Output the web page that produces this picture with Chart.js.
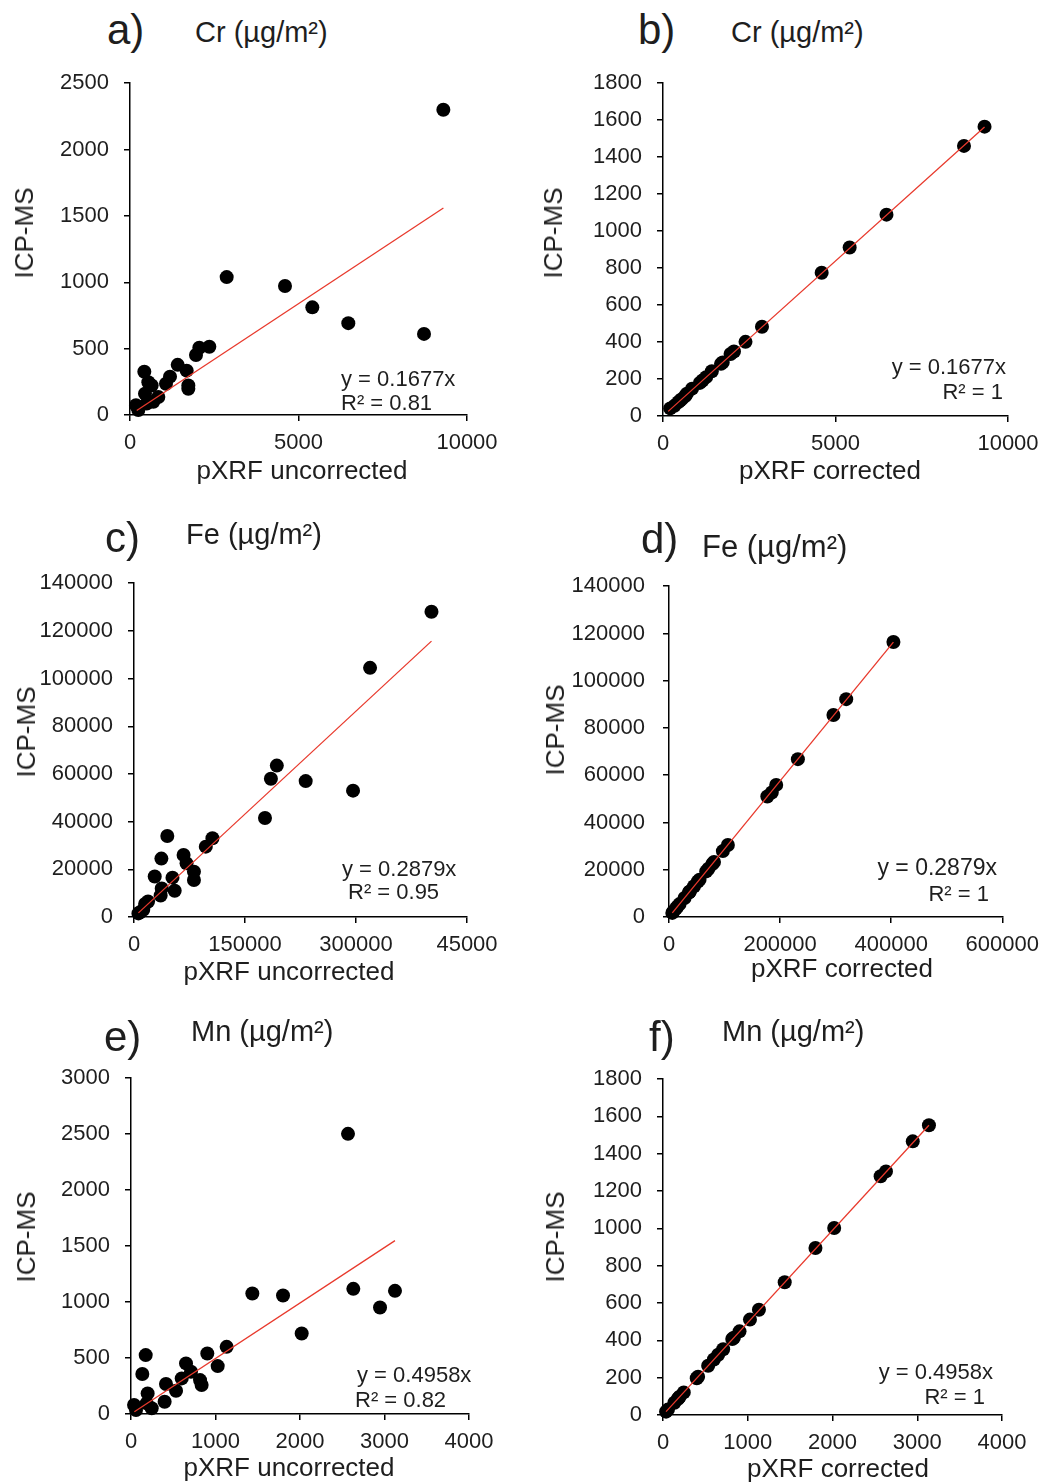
<!DOCTYPE html>
<html>
<head>
<meta charset="utf-8">
<script src="https://cdn.jsdelivr.net/npm/chart.js@4.4.1/dist/chart.umd.min.js"></script>
<style>
  body { margin: 0; background: #fff; width: 1048px; height: 1483px; position: relative; overflow: hidden;
         font-family: "Liberation Sans", Arial, Helvetica, sans-serif; color: #1e1e1e; }
  .box { position: absolute; }
  .txt { position: absolute; white-space: nowrap; line-height: 1; }
</style>
</head>
<body>
<script>
// --- VALUES ---

// a) Cr, pXRF uncorrected vs ICP-MS
const crRawX = [9298, 2869, 4599, 5410, 6478, 8724, 2354, 2057, 1958, 1415, 1682, 1731, 1731, 1187, 1068, 425, 544, 643, 445, 841, 692, 495, 178, 247];
const crRawY = [2300, 1039, 972, 811, 692, 611, 514, 507, 452, 378, 334, 223, 198, 289, 235, 326, 247, 222, 161, 136, 99, 87, 74, 37];
const crRawFitX = [200, 9300];
const crRawFitY = [34, 1560];

// b) Cr, pXRF corrected
const crCorX = [9320, 8724, 6478, 5410, 4599, 2869, 2391, 2057, 1958, 1731, 1682, 1415, 1250, 1145, 1068, 843, 692, 643, 544, 495, 445, 330, 208];
const crCorY = [1565, 1461, 1089, 911, 775, 483, 401, 349, 335, 290, 282, 242, 210, 192, 179, 148, 121, 108, 91, 83, 75, 55, 41];
const crCorFitX = [150, 9320];
const crCorFitY = [25, 1563];

// c) Fe, pXRF uncorrected
const feRawX = [402000, 319000, 193000, 185000, 232000, 296000, 177000, 106000, 97000, 45000, 37000, 67000, 71000, 81000, 81000, 52000, 55000, 28000, 37500, 36000, 19000, 15000, 12500, 8000, 6000];
const feRawY = [128000, 104500, 63500, 58000, 57000, 53000, 41500, 33000, 29500, 34000, 24500, 26000, 22500, 19000, 15500, 16500, 11000, 17000, 12000, 9000, 6500, 5500, 3000, 2000, 1500];
const feRawFitX = [6000, 402000];
const feRawFitY = [1730, 115700];
const feRawXTicks = ['0', '150000', '300000', '45000'];

// d) Fe, pXRF corrected
const feCorX = [404000, 319000, 296000, 232000, 193000, 185000, 177000, 106000, 97000, 81000, 78000, 71000, 67000, 55000, 52000, 45000, 37500, 37000, 36000, 28000, 19000, 15000, 12500, 8000, 6000];
const feCorY = [116400, 92200, 85500, 66800, 55900, 52700, 51000, 30500, 27900, 23300, 22400, 20400, 19300, 15800, 15000, 13000, 10800, 10650, 10400, 8060, 5470, 4320, 3600, 2300, 1730];
const feCorFitX = [6000, 404000];
const feCorFitY = [1730, 116300];

// e) Mn, pXRF uncorrected
const mnRawX = [2568, 2631, 1436, 1799, 3124, 2947, 2020, 1132, 903, 1026, 651, 710, 600, 817, 836, 533, 414, 398, 174, 134, 197, 185, 245, 36, 59];
const mnRawY = [2503, 1118, 1076, 1058, 1100, 951, 719, 600, 541, 428, 452, 378, 318, 303, 259, 208, 268, 110, 526, 357, 184, 95, 51, 80, 36];
const mnRawFitX = [40, 3124];
const mnRawFitY = [20, 1549];

// f) Mn, pXRF corrected
const mnCorX = [3138, 2947, 2631, 2568, 2020, 1799, 1436, 1132, 1026, 903, 836, 817, 710, 651, 600, 533, 414, 398, 245, 197, 185, 174, 134, 59, 36];
const mnCorY = [1552, 1466, 1305, 1279, 1002, 895, 711, 564, 511, 448, 414, 407, 352, 323, 297, 264, 205, 197, 121, 98, 92, 86, 66, 29, 18];
const mnCorFitX = [36, 3138];
const mnCorFitY = [18, 1552];

// --- PANEL LAYOUT ---
// box = canvas [left, top, width, height], area = plot edges [left, top, right, bottom]
const panels = [
  { x: crRawX, y: crRawY, fx: crRawFitX, fy: crRawFitY, xMax: 10000, xStep: 5000, yMax: 2500, yStep: 500,
    box: [0, 55, 524, 445], area: [130, 78, 467, 415], pad: 15 },
  { x: crCorX, y: crCorY, fx: crCorFitX, fy: crCorFitY, xMax: 10000, xStep: 5000, yMax: 1800, yStep: 200,
    box: [524, 55, 524, 445], area: [663, 79, 1008, 416], pad: 15 },
  { x: feRawX, y: feRawY, fx: feRawFitX, fy: feRawFitY, xMax: 450000, xStep: 150000, yMax: 140000, yStep: 20000,
    box: [0, 555, 524, 445], area: [134, 581, 467, 917], pad: 15, xTicks: feRawXTicks },
  { x: feCorX, y: feCorY, fx: feCorFitX, fy: feCorFitY, xMax: 600000, xStep: 200000, yMax: 140000, yStep: 20000,
    box: [524, 555, 524, 445], area: [669, 580, 1004, 917], pad: 18 },
  { x: mnRawX, y: mnRawY, fx: mnRawFitX, fy: mnRawFitY, xMax: 4000, xStep: 1000, yMax: 3000, yStep: 500,
    box: [0, 1050, 524, 433], area: [131, 1078, 469, 1414], pad: 15 },
  { x: mnCorX, y: mnCorY, fx: mnCorFitX, fy: mnCorFitY, xMax: 4000, xStep: 1000, yMax: 1800, yStep: 200,
    box: [524, 1050, 524, 433], area: [663, 1079, 1002, 1415], pad: 15 }
];

// text: [string, x, y, size, align]  (align: l = left edge, c = centre, r = right edge, v = rotated)
const texts = [
  ['a)', 107, 30, 42, 'l'], ['Cr (µg/m²)', 195, 32, 29, 'l'],
  ['b)', 638, 30, 42, 'l'], ['Cr (µg/m²)', 731, 32, 29, 'l'],
  ['c)', 105, 538, 42, 'l'], ['Fe (µg/m²)', 186, 534, 29, 'l'],
  ['d)', 641, 539, 42, 'l'], ['Fe (µg/m²)', 702, 546, 31, 'l'],
  ['e)', 104, 1037, 42, 'l'], ['Mn (µg/m²)', 191, 1031, 29, 'l'],
  ['f)', 649, 1037, 42, 'l'], ['Mn (µg/m²)', 722, 1031, 29, 'l'],

  ['ICP-MS', 24, 233, 26, 'v'], ['ICP-MS', 553, 233, 26, 'v'],
  ['ICP-MS', 26, 732, 26, 'v'], ['ICP-MS', 555, 730, 26, 'v'],
  ['ICP-MS', 26, 1237, 26, 'v'], ['ICP-MS', 555, 1237, 26, 'v'],

  ['pXRF uncorrected', 302, 470, 26, 'c'], ['pXRF corrected', 830, 470, 26, 'c'],
  ['pXRF uncorrected', 289, 971, 26, 'c'], ['pXRF corrected', 842, 968, 26, 'c'],
  ['pXRF uncorrected', 289, 1467, 26, 'c'], ['pXRF corrected', 838, 1468, 26, 'c'],

  ['y = 0.1677x', 341, 379, 22, 'l'], ['R² = 0.81', 341, 403, 22, 'l'],
  ['y = 0.1677x', 1006, 367, 22, 'r'], ['R² = 1', 1003, 392, 22, 'r'],
  ['y = 0.2879x', 342, 869, 22, 'l'], ['R² = 0.95', 348, 892, 22, 'l'],
  ['y = 0.2879x', 997, 867, 23, 'r'], ['R² = 1', 989, 894, 22, 'r'],
  ['y = 0.4958x', 357, 1375, 22, 'l'], ['R² = 0.82', 355, 1400, 22, 'l'],
  ['y = 0.4958x', 993, 1372, 22, 'r'], ['R² = 1', 985, 1397, 22, 'r']
];

const FONT = '"Liberation Sans", Arial, Helvetica, sans-serif';
const INK = '#1e1e1e';

function makePanel(p) {
  const [cx, cy, cw, ch] = p.box;
  const [l, t, r, b] = p.area;
  const wrap = document.createElement('div');
  wrap.className = 'box';
  wrap.style.left = cx + 'px';
  wrap.style.top = cy + 'px';
  wrap.style.width = cw + 'px';
  wrap.style.height = ch + 'px';
  const cv = document.createElement('canvas');
  cv.width = cw;
  cv.height = ch;
  wrap.appendChild(cv);
  document.body.appendChild(wrap);

  const axisLook = {
    grid: { display: true, drawOnChartArea: false, drawTicks: true, tickLength: 6, color: '#000', lineWidth: 1.5 },
    border: { display: true, color: '#000', width: 1.5 }
  };

  new Chart(cv, {
    type: 'scatter',
    data: {
      datasets: [
        { // trend line on top of the dots
          data: p.fx.map((v, i) => ({ x: v, y: p.fy[i] })),
          showLine: true, borderColor: '#e8392c', borderWidth: 1.3,
          pointRadius: 0, fill: false, order: 0, clip: false
        },
        {
          data: p.x.map((v, i) => ({ x: v, y: p.y[i] })),
          backgroundColor: '#000', borderWidth: 0, pointRadius: 7, pointHoverRadius: 7,
          order: 1, clip: false
        }
      ]
    },
    options: {
      responsive: false,
      animation: false,
      devicePixelRatio: 1,
      layout: { padding: { top: t - cy, right: cx + cw - r, left: 0, bottom: 0 } },
      plugins: { legend: { display: false }, tooltip: { enabled: false } },
      events: [],
      scales: {
        x: {
          type: 'linear', min: 0, max: p.xMax,
          ...axisLook,
          ticks: {
            stepSize: p.xStep, autoSkip: false, maxRotation: 0, padding: 9,
            color: INK, font: { family: FONT, size: 22 },
            callback: (v, i) => p.xTicks ? p.xTicks[i] : String(v)
          },
          afterFit: s => { s.height = cy + ch - b; }
        },
        y: {
          type: 'linear', min: 0, max: p.yMax,
          ...axisLook,
          ticks: {
            stepSize: p.yStep, autoSkip: false, padding: p.pad,
            color: INK, font: { family: FONT, size: 22 },
            callback: v => String(v)
          },
          afterFit: s => { s.width = l - cx; }
        }
      }
    }
  });
}

panels.forEach(makePanel);

// headings, axis titles and fit equations as real text
texts.forEach(([str, x, y, size, align]) => {
  const el = document.createElement('div');
  el.className = 'txt';
  el.textContent = str;
  el.style.fontSize = size + 'px';
  el.style.left = x + 'px';
  el.style.top = y + 'px';
  if (align === 'l') el.style.transform = 'translate(0,-50%)';
  else if (align === 'c') el.style.transform = 'translate(-50%,-50%)';
  else if (align === 'r') el.style.transform = 'translate(-100%,-50%)';
  else el.style.transform = 'translate(-50%,-50%) rotate(-90deg)';
  document.body.appendChild(el);
});
</script>
</body>
</html>
